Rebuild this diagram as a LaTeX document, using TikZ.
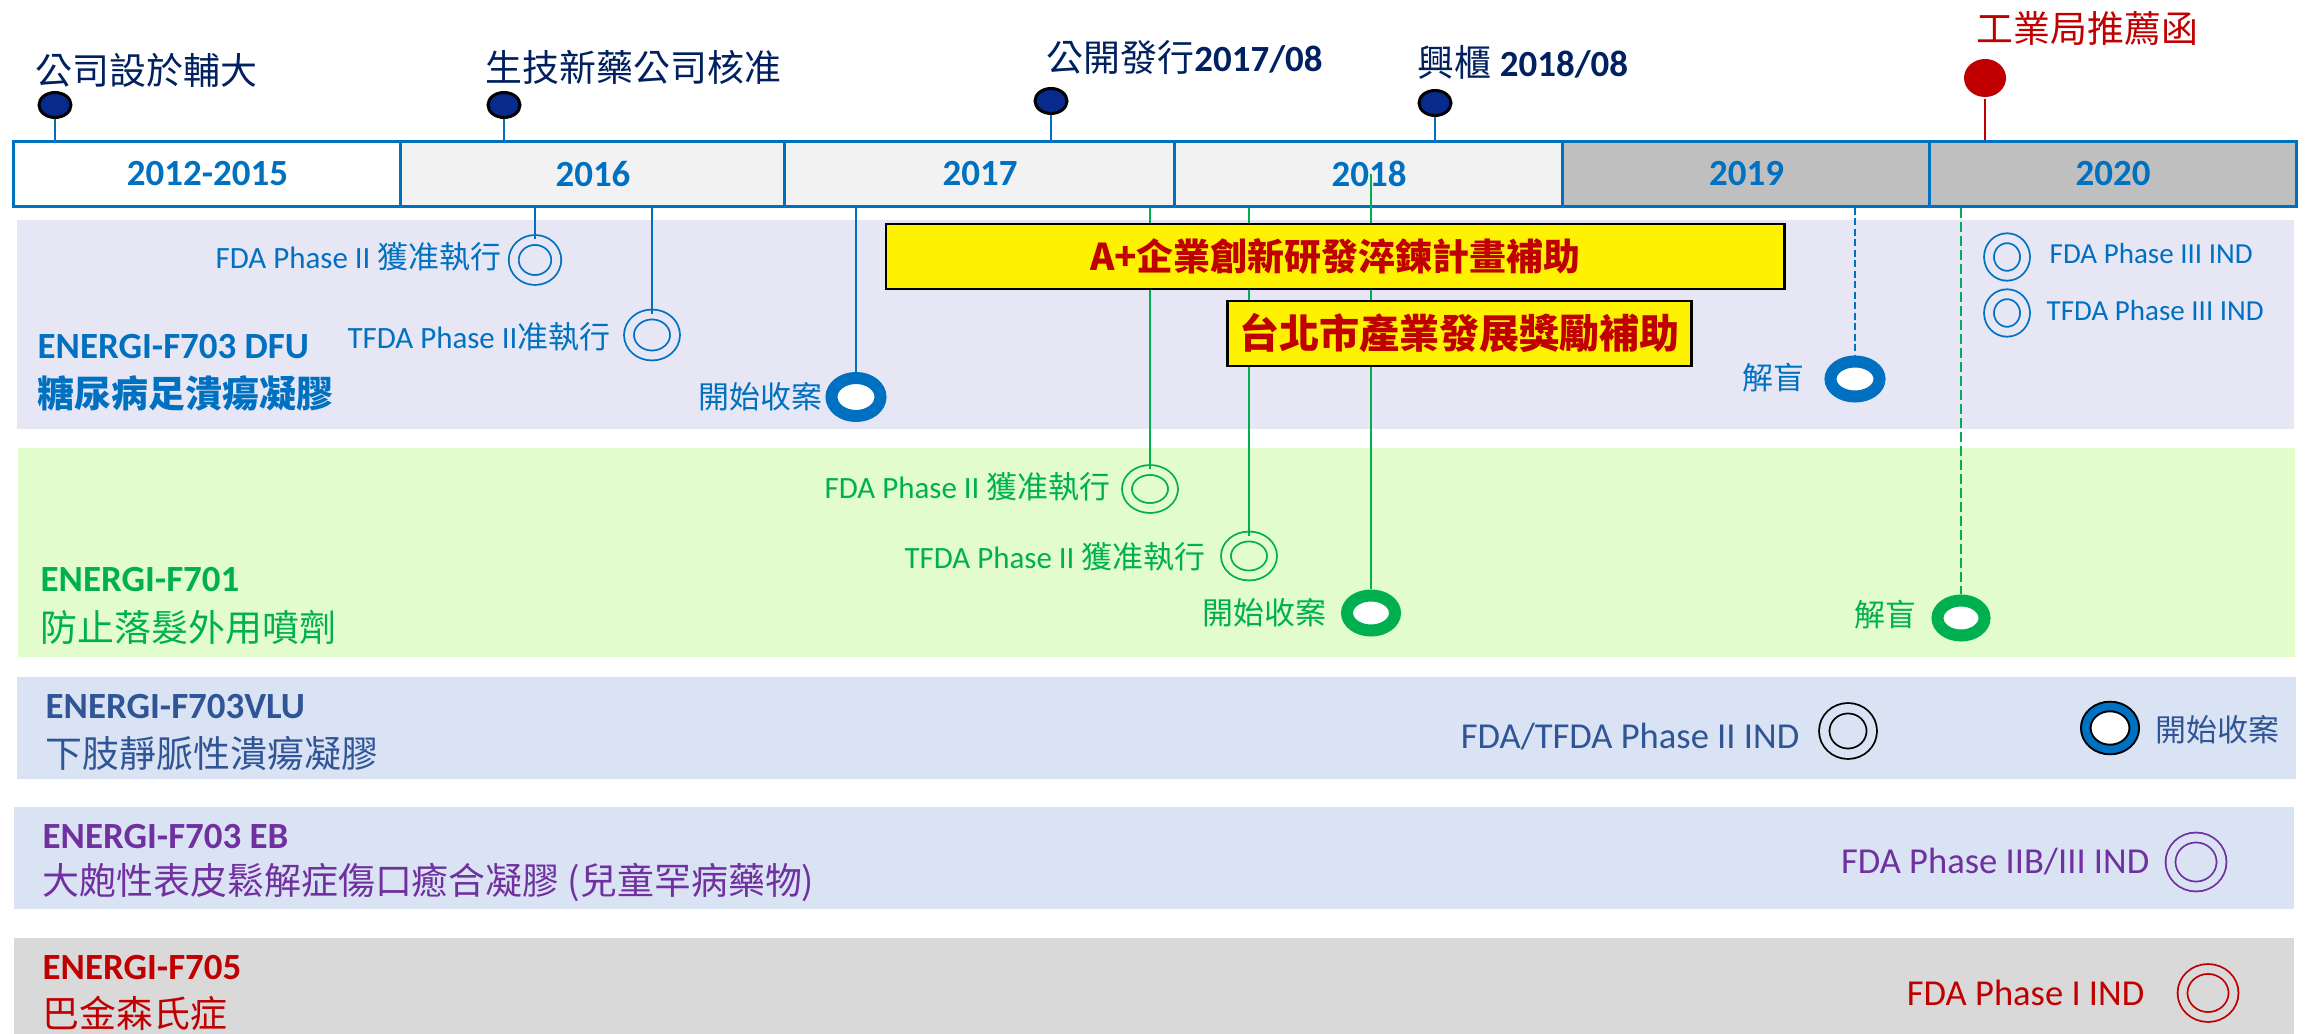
\documentclass[tikz,border=0pt]{standalone}
\usepackage{fontspec}
\setmainfont{Carlito}
\newfontfamily\cjk{Noto Sans CJK TC}
\usepackage{tikz}
\usetikzlibrary{shapes.geometric,positioning}
\definecolor{barblue}{HTML}{0070C0}
\definecolor{navydot}{HTML}{072A8C}
\definecolor{navytext}{HTML}{002060}
\definecolor{darkred}{HTML}{C00000}
\definecolor{grn}{HTML}{00B050}
\definecolor{vlublue}{HTML}{2F5597}
\definecolor{purp}{HTML}{7030A0}
\definecolor{cellgray}{HTML}{F2F2F2}
\definecolor{cellgray2}{HTML}{BFBFBF}
\definecolor{dfuband}{HTML}{E6E6F5}
\definecolor{hairband}{HTML}{E2FCCB}
\definecolor{vluband}{HTML}{DAE3F3}
\definecolor{pdband}{HTML}{D9D9D9}

\begin{document}
\begin{tikzpicture}[
    x=0.01cm, y=-0.01cm,
    year/.style    = {rectangle, draw=barblue, line width=0.03cm, minimum height=0.64cm,
                      text=barblue, font=\fontsize{10.5}{12}\selectfont\bfseries},
    dot/.style     = {ellipse, draw=black, fill=navydot, line width=0.03cm,
                      minimum width=0.32cm, minimum height=0.25cm, inner sep=0},
    stem/.style    = {barblue, line width=0.025cm},
    gline/.style   = {grn, line width=0.022cm},
    event/.style   = {anchor=west, inner sep=0, text=navytext,
                      font=\fontsize{10.5}{12}\selectfont},
    ring/.style    = {ellipse, line width=0.018cm, double distance=0.08cm, inner sep=0},
    bigring/.style = {ellipse, fill=white, line width=0.12cm, inner sep=0},
    lbl/.style     = {inner sep=0, font=\fontsize{8.8}{10}\selectfont},
    biglbl/.style  = {inner sep=0, font=\fontsize{10.4}{12}\selectfont},
    grant/.style   = {rectangle, draw=black, fill=yellow, line width=0.025cm,
                      minimum height=0.65cm, text=darkred,
                      font=\cjk\fontsize{10.5}{12}\selectfont\bfseries},
    prod/.style    = {anchor=west, inner sep=0, font=\fontsize{10.5}{12}\selectfont\bfseries},
    sub/.style     = {anchor=west, inner sep=0, font=\cjk\fontsize{10.5}{12}\selectfont},
]

  \useasboundingbox (0,0) rectangle (2310,1034);

  % product bands
  \fill[dfuband]  (17,220) rectangle (2294,429);
  \fill[hairband] (18,448) rectangle (2295,657);
  \fill[vluband]  (17,677) rectangle (2296,779);
  \fill[vluband]  (14,807) rectangle (2294,909);
  \fill[pdband]   (14,938) rectangle (2294,1034);

  % year bar
  \node[year, fill=white,     minimum width=3.87cm] (y1215) at (207.5,174) {2012-2015};
  \node[year, fill=cellgray,  minimum width=3.84cm] (y16)   at (593,174)   {2016};
  \node[year, fill=cellgray,  minimum width=3.90cm] (y17)   at (980,174)   {2017};
  \node[year, fill=cellgray,  minimum width=3.88cm] (y18)   at (1369,174)  {2018};
  \node[year, fill=cellgray2, minimum width=3.67cm] (y19)   at (1746.5,174){2019};
  \node[year, fill=cellgray2, minimum width=3.66cm] (y20)   at (2113,174)  {2020};

  % company milestones
  \node[dot] (m1) at (55,105)   {};
  \node[dot] (m2) at (504,105)  {};
  \node[dot] (m3) at (1051,101) {};
  \node[dot] (m4) at (1435,103) {};
  \node[dot, fill=darkred, draw=none, minimum width=0.42cm, minimum height=0.38cm]
      (m5) at (1985,78) {};

  \draw[stem] (m1.south) -- (m1.south |- y1215.north);
  \draw[stem] (m2.south) -- (m2.south |- y16.north);
  \draw[stem] (m3.south) -- (m3.south |- y17.north);
  \draw[stem] (m4.south) -- (m4.south |- y18.north);
  \draw[stem, darkred] (m5.south) -- (m5.south |- y20.north);

  \node[event] (e1) at (35,70)   {\cjk 公司設於輔大};
  \node[event] (e2) at (485,67)  {\cjk 生技新藥公司核准};
  \node[event] (e3) at (1046,58) {{\cjk 公開發行}\textbf{2017/08}};
  \node[event] (e4) at (1417,62) {{\cjk 興櫃} \textbf{2018/08}};
  \node[event, text=darkred] (e5) at (1976,28) {\cjk 工業局推薦函};

  % ENERGI-F703 DFU
  \node[ring, draw=barblue, double=dfuband, minimum width=0.425cm, minimum height=0.40cm] (d1) at (535,260) {};
  \node[ring, draw=barblue, double=dfuband, minimum width=0.46cm, minimum height=0.41cm] (d2) at (652,335) {};
  \node[bigring, draw=barblue, minimum width=0.49cm, minimum height=0.38cm] (d3) at (856,397) {};
  \node[bigring, draw=barblue, minimum width=0.49cm, minimum height=0.35cm] (d4) at (1855,379) {};
  \node[ring, draw=barblue, double=dfuband, minimum width=0.36cm, minimum height=0.375cm] (d5) at (2007,257) {};
  \node[ring, draw=barblue, double=dfuband, minimum width=0.36cm, minimum height=0.375cm] (d6) at (2007,313) {};

  \draw[stem] (d1.north |- y16.south) -- (d1.north);
  \draw[stem] (d2.north |- y16.south) -- (d2.north);
  \draw[stem] (d3.north |- y17.south) -- (d3.north);
  \draw[stem, dash pattern=on 0.07cm off 0.035cm] (d4.north |- y19.south) -- (d4.north);

  \node[lbl, text=barblue, anchor=east] (dl1) at (502,257) {FDA Phase II {\cjk 獲准執行}};
  \node[lbl, text=barblue, anchor=east] (dl2) at (611,337) {TFDA Phase II{\cjk 准執行}};
  \node[lbl, text=barblue, anchor=east] (dl3) at (823,397) {\cjk 開始收案};
  \node[lbl, text=barblue, anchor=east] (dl4) at (1805,378) {\cjk 解盲};
  \node[lbl, text=barblue, anchor=west, font=\fontsize{8.25}{10}\selectfont]
      (dl5) at (2049,254) {FDA Phase III IND};
  \node[lbl, text=barblue, anchor=west, font=\fontsize{8.25}{10}\selectfont]
      (dl6) at (2046,311) {TFDA Phase III IND};

  \node[prod, text=barblue] (dfu)  at (37,347) {ENERGI-F703 DFU};
  \node[sub, text=barblue, font=\cjk\fontsize{10.5}{12}\selectfont\bfseries]
      (dfus) at (37,393) {糖尿病足潰瘍凝膠};

  % ENERGI-F701
  \node[ring, draw=grn, double=hairband, minimum width=0.46cm, minimum height=0.38cm] (h1) at (1150,489) {};
  \node[ring, draw=grn, double=hairband, minimum width=0.46cm, minimum height=0.39cm] (h2) at (1249,556) {};
  \node[bigring, draw=grn, minimum width=0.48cm, minimum height=0.35cm] (h3) at (1371,613) {};
  \node[bigring, draw=grn, minimum width=0.47cm, minimum height=0.35cm] (h4) at (1961,618) {};

  \draw[gline] (h1.north |- y17.south) -- (h1.north);
  \draw[gline] (h2.north |- y18.south) -- (h2.north);
  \draw[gline] (h3.north |- y18.center) -- (h3.north);
  \draw[gline, dash pattern=on 0.10cm off 0.04cm] (h4.north |- y20.south) -- (h4.north);

  \node[lbl, text=grn, anchor=east] (hl1) at (1111,487) {FDA Phase II {\cjk 獲准執行}};
  \node[lbl, text=grn, anchor=east] (hl2) at (1206,557) {TFDA Phase II {\cjk 獲准執行}};
  \node[lbl, text=grn, anchor=east] (hl3) at (1327,613) {\cjk 開始收案};
  \node[lbl, text=grn, anchor=east] (hl4) at (1917,615) {\cjk 解盲};

  \node[prod, text=grn] (hair)  at (40,580) {ENERGI-F701};
  \node[sub, text=grn]  (hairs) at (40,627) {防止落髮外用噴劑};

  % grants
  \node[grant, minimum width=8.98cm] (g1) at (1335,256.5) {A+企業創新研發淬鍊計畫補助};
  \node[grant, minimum width=4.63cm, font=\cjk\fontsize{11.4}{13}\selectfont\bfseries]
      (g2) at (1459.5,333.5) {台北市產業發展獎勵補助};

  % ENERGI-F703VLU
  \node[ring, draw=black, double=vluband, double distance=0.085cm,
        minimum width=0.475cm, minimum height=0.455cm] (v1) at (1848,731) {};
  \node[ring, draw=black, double=barblue, fill=white, line width=0.02cm, double distance=0.075cm,
        minimum width=0.485cm, minimum height=0.43cm] (v2) at (2110,728) {};
  \node[biglbl, text=vlublue, anchor=east] (vl1) at (1800,737) {FDA/TFDA Phase II IND};
  \node[lbl, text=vlublue, anchor=west] (vl2) at (2155,730) {\cjk 開始收案};

  \node[prod, text=vlublue] (vlu)  at (45,707) {ENERGI-F703VLU};
  \node[sub, text=vlublue]  (vlus) at (45,753) {下肢靜脈性潰瘍凝膠};

  % ENERGI-F703 EB
  \node[ring, draw=purp, double=vluband, minimum width=0.51cm, minimum height=0.49cm] (b1) at (2196,862) {};
  \node[biglbl, text=purp, anchor=east] (bl1) at (2150,862) {FDA Phase IIB/III IND};
  \node[prod, text=purp] (eb)  at (42,837) {ENERGI-F703 EB};
  \node[sub, text=purp]  (ebs) at (42,882) {大皰性表皮鬆解症傷口癒合凝膠 (兒童罕病藥物)};

  % ENERGI-F705
  \node[ring, draw=darkred, double=pdband, minimum width=0.51cm, minimum height=0.48cm] (p1) at (2208,993) {};
  \node[biglbl, text=darkred, anchor=east] (pl1) at (2145,993) {FDA Phase I IND};
  \node[prod, text=darkred] (pd)  at (42,968)  {ENERGI-F705};
  \node[sub, text=darkred]  (pds) at (42,1013) {巴金森氏症};

\end{tikzpicture}
\end{document}
